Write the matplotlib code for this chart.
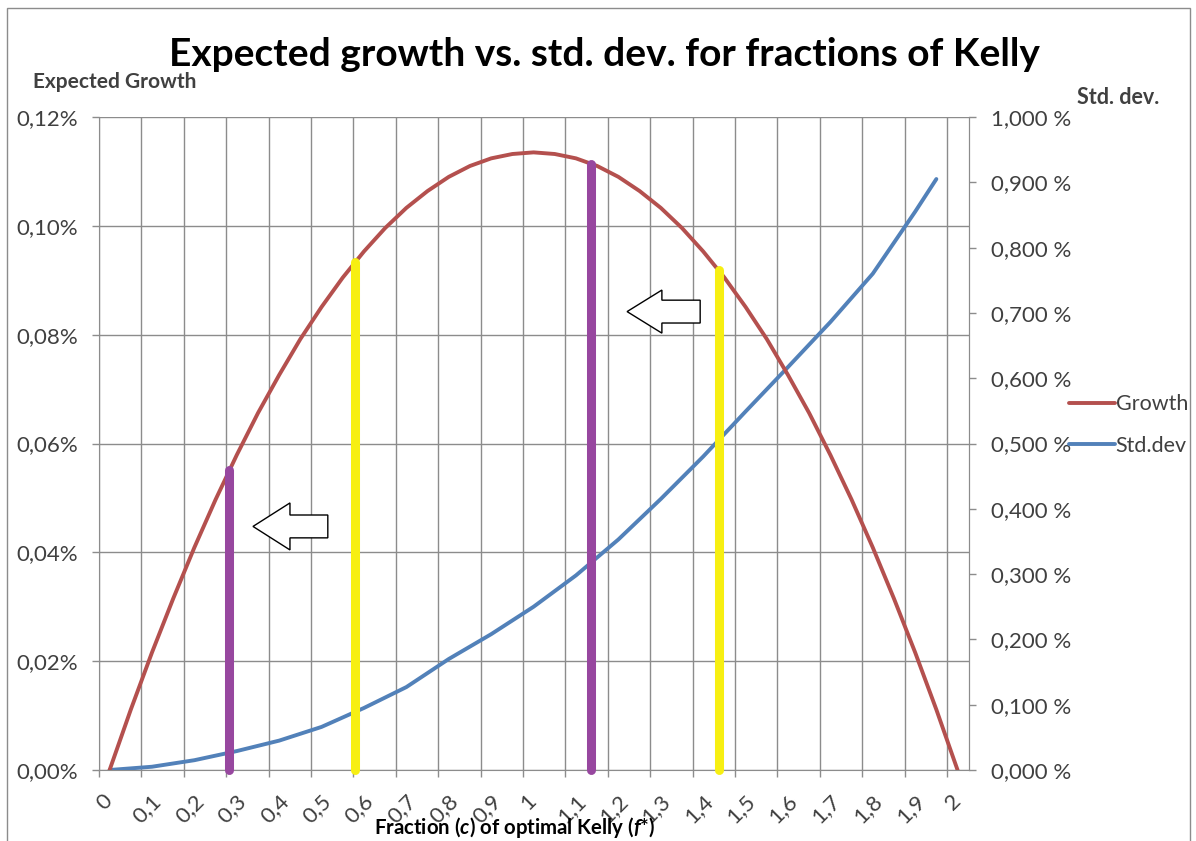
import matplotlib
matplotlib.use("Agg")
import matplotlib.pyplot as plt
import matplotlib.transforms as mtransforms
from matplotlib.patches import Polygon, Rectangle
from matplotlib.ticker import FuncFormatter, MultipleLocator

# fraction of Kelly (category axis) and its tick labels
frac = [0.0, 0.1, 0.2, 0.3, 0.4, 0.5, 0.6, 0.7, 0.8, 0.9, 1.0,
        1.1, 1.2, 1.3, 1.4, 1.5, 1.6, 1.7, 1.8, 1.9, 2.0]
x_labels = ["0", "0,1", "0,2", "0,3", "0,4", "0,5", "0,6", "0,7", "0,8", "0,9", "1",
            "1,1", "1,2", "1,3", "1,4", "1,5", "1,6", "1,7", "1,8", "1,9", "2"]

# expected growth, in %
growth_frac = [0.00, 0.05, 0.10, 0.15, 0.20, 0.25, 0.30, 0.35, 0.40, 0.45, 0.50,
               0.55, 0.60, 0.65, 0.70, 0.75, 0.80, 0.85, 0.90, 0.95, 1.00,
               1.05, 1.10, 1.15, 1.20, 1.25, 1.30, 1.35, 1.40, 1.45, 1.50,
               1.55, 1.60, 1.65, 1.70, 1.75, 1.80, 1.85, 1.90, 1.95, 2.00]
growth = [0.0000, 0.0111, 0.0216, 0.0315, 0.0409, 0.0497, 0.0579, 0.0656, 0.0726, 0.0792, 0.0851,
          0.0905, 0.0953, 0.0996, 0.1033, 0.1064, 0.1090, 0.1110, 0.1124, 0.1132, 0.1135,
          0.1132, 0.1124, 0.1110, 0.1090, 0.1064, 0.1033, 0.0996, 0.0953, 0.0905, 0.0851,
          0.0792, 0.0726, 0.0656, 0.0579, 0.0497, 0.0409, 0.0315, 0.0216, 0.0111, 0.0000]

# std. dev., in %
std_frac = [0.0, 0.1, 0.2, 0.3, 0.4, 0.5, 0.6, 0.7, 0.8, 0.9, 1.0,
            1.1, 1.2, 1.3, 1.4, 1.5, 1.6, 1.7, 1.8, 1.9, 1.95]
std_dev = [0.000, 0.005, 0.015, 0.029, 0.045, 0.066, 0.095, 0.127, 0.170, 0.208, 0.250,
           0.298, 0.353, 0.415, 0.480, 0.549, 0.617, 0.686, 0.760, 0.855, 0.905]

# highlighted fractions (vertical bars up to the growth curve)
purple_x = [0.306, 1.161]
purple_top = [0.0551, 0.1114]
yellow_x = [0.603, 1.463]
yellow_top = [0.0933, 0.0918]

X_SHIFT = 0.025  # series sit a little right of the category ticks
RED = "#B4504E"
BLUE = "#5281B9"
PURPLE = "#97479F"
YELLOW = "#F7EF12"
GRID = "#8C8C8C"
TXT = "#404040"

plt.rcParams["font.family"] = ["Lato", "DejaVu Sans"]
plt.rcParams["mathtext.fontset"] = "custom"
plt.rcParams["mathtext.it"] = "Lato:italic:bold"
plt.rcParams["mathtext.rm"] = "Lato:bold"

fig = plt.figure(figsize=(11.96, 8.41), dpi=100)
ax = fig.add_axes([99 / 1196, 1 - 770 / 841, 870 / 1196, 653 / 841])
ax2 = ax.twinx()
ax.set_zorder(ax2.get_zorder() + 1)
ax.patch.set_visible(False)

ax.set_xlim(0, 2.052)
ax.set_ylim(0, 0.12)
ax2.set_ylim(0, 1.0)

ax.set_xticks(frac)
ax.set_xticklabels(x_labels)
ax.yaxis.set_major_locator(MultipleLocator(0.02))
ax.yaxis.set_major_formatter(FuncFormatter(lambda v, p: f"{v:.2f}%".replace(".", ",")))
ax2.yaxis.set_major_locator(MultipleLocator(0.1))
ax2.yaxis.set_major_formatter(FuncFormatter(lambda v, p: f"{v:.3f} %".replace(".", ",")))

ax.grid(True, color=GRID, linewidth=1.0)
ax.set_axisbelow(True)
for a in (ax, ax2):
    for s in a.spines.values():
        s.set_color(GRID)
    a.spines["top"].set_visible(False)
ax2.spines["left"].set_visible(False)
ax2.spines["bottom"].set_visible(False)

ax.tick_params(axis="both", length=5, color=GRID, labelsize=16, labelcolor=TXT, width=1)
ax.tick_params(axis="y", pad=10)
ax.tick_params(axis="x", pad=10)
ax2.tick_params(axis="y", length=5, color=GRID, labelsize=16, labelcolor=TXT, width=1, pad=11)

offset = mtransforms.ScaledTranslation(0.06, 0, fig.dpi_scale_trans)
for lbl in ax.get_xticklabels():
    lbl.set_rotation(45)
    lbl.set_ha("center")
    lbl.set_va("top")
    lbl.set_transform(lbl.get_transform() + offset)

# series
gx = [f + X_SHIFT for f in growth_frac]
sx = [f + X_SHIFT for f in std_frac]
l_std, = ax.plot(sx, std_dev, color=BLUE, lw=2.8, transform=ax2.transData,
                 solid_capstyle="round", solid_joinstyle="round", zorder=3, label="Std.dev")
l_gr, = ax.plot(gx, growth, color=RED, lw=2.8, solid_capstyle="round",
                solid_joinstyle="round", zorder=4, label="Growth")

ax.vlines(purple_x, 0, purple_top, color=PURPLE, lw=6.5, zorder=5, capstyle="round", clip_on=False)
ax.vlines(yellow_x, 0, yellow_top, color=YELLOW, lw=6.5, zorder=5, capstyle="round", clip_on=False)


def left_arrow(tip, base, right, yc, head, body):
    pts = [(tip, yc), (base, yc + head), (base, yc + body), (right, yc + body),
           (right, yc - body), (base, yc - body), (base, yc - head)]
    return Polygon(pts, closed=True, transform=ax.transAxes, facecolor="white",
                   edgecolor="black", lw=1.0, zorder=6)


ax.add_patch(left_arrow(0.177, 0.2195, 0.263, 0.373, 0.036, 0.0175))
ax.add_patch(left_arrow(0.607, 0.647, 0.691, 0.702, 0.033, 0.0175))

# legend
fig.legend([l_gr, l_std], ["Growth", "Std.dev"], loc="center left",
           bbox_to_anchor=(1050 / 1196, 1 - 425 / 841), frameon=False,
           fontsize=15.5, handlelength=2.1, handletextpad=0.05, labelspacing=1.0,
           labelcolor=TXT)

# titles
fig.text(604 / 1196, 1 - 55 / 841, "Expected growth vs. std. dev. for fractions of Kelly",
         ha="center", va="center", fontsize=28, fontweight="bold", color="black")
fig.text(115 / 1196, 1 - 82 / 841, "Expected Growth", ha="center", va="center",
         fontsize=15, fontweight="bold", color=TXT)
fig.text(1118 / 1196, 1 - 97 / 841, "Std. dev.", ha="center", va="center",
         fontsize=15.5, fontweight="bold", color=TXT)
fig.text(515 / 1196, 1 - 828 / 841, r"Fraction ($c$) of optimal Kelly ($f$*)",
         ha="center", va="center", fontsize=14.7, fontweight="bold", color="black")

# chart area border
fig.patches.append(Rectangle((7 / 1196, -0.02), 1183 / 1196, 1.02 - 8 / 841,
                             transform=fig.transFigure, fill=False,
                             edgecolor="#8C8C8C", lw=1.0))

fig.savefig("out.png", dpi=100)
